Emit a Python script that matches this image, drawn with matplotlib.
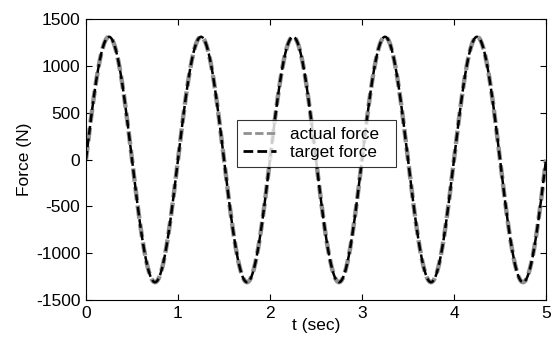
import numpy as np
import matplotlib.pyplot as plt

plt.rcParams['font.family'] = ['Liberation Sans', 'DejaVu Sans']
plt.rcParams['axes.unicode_minus'] = False

# values: a 1 Hz sine of about 1310 N amplitude
amplitude = 1310.0
period = 1.0
t_end = 5.0
xticks = [0, 1, 2, 3, 4, 5]
yticks = [-1500, -1000, -500, 0, 500, 1000, 1500]

t = np.linspace(0, t_end, 1001)
target = amplitude * np.sin(2 * np.pi * t / period)
actual = target.copy()

fig = plt.figure(figsize=(5.53, 3.38), dpi=100)
ax = fig.add_axes([86 / 553, 1 - 300 / 338, 460 / 553, 281 / 338])

ax.plot(t, actual, color='#909090', lw=3.2, ls=(0, (3, 1.2)), label='actual force')
ax.plot(t, target, color='black', lw=1.8, ls=(0, (3.5, 1.5)), label='target force')

ax.set_xlim(0, 5)
ax.set_ylim(-1500, 1500)
ax.set_xticks(xticks)
ax.set_yticks(yticks)
ax.tick_params(direction='in', top=True, right=True, labelsize=12.5, length=4, pad=4)
ax.set_xlabel('t (sec)', fontsize=12.5, labelpad=-2)
ax.set_ylabel('Force (N)', fontsize=12.5, labelpad=3)

leg = ax.legend(loc='upper left',
                bbox_to_anchor=((237 - 86) / 460, (300 - 123) / 281, (396 - 237) / 460, 0.01),
                mode='expand', fontsize=12.3, frameon=True, fancybox=False,
                handlelength=1.9, handletextpad=0.8, borderpad=0.38, labelspacing=0.2,
                borderaxespad=0)
leg.get_frame().set_edgecolor('black')
leg.get_frame().set_linewidth(0.8)
for line in leg.get_lines():
    line.set_linewidth(2.0)

fig.savefig('out.png', dpi=100)
